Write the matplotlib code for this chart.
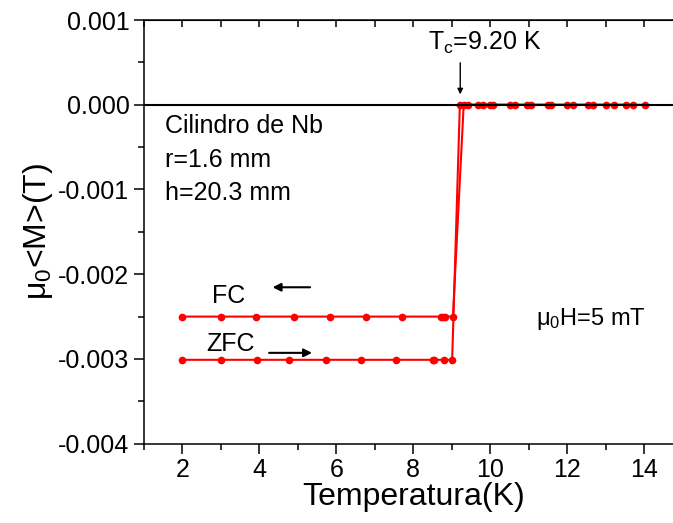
import matplotlib
matplotlib.use("Agg")
import matplotlib.pyplot as plt
from matplotlib.ticker import MultipleLocator, FuncFormatter

plt.rcParams["font.family"] = ["Liberation Sans", "DejaVu Sans"]
plt.rcParams["mathtext.fontset"] = "custom"
plt.rcParams["mathtext.rm"] = "Liberation Sans"

# FC (enfriando) y ZFC (calentando), T en K, mu0<M> en T
fc_T = [2.0, 3.0, 3.91, 4.89, 5.83, 6.76, 7.70, 8.71, 8.77, 8.82, 9.03,
        9.31, 9.68, 9.99, 10.64, 10.96, 11.59, 12.15, 12.67, 13.22, 13.70]
fc_M = [-0.0025] * 11 + [0.0] * 10

zfc_T = [1.99, 3.01, 3.93, 4.78, 5.73, 6.65, 7.56, 8.50, 8.55, 8.79, 9.01,
         9.21, 9.42, 9.80, 10.07, 10.51, 11.05, 11.50, 12.00, 12.54, 13.00, 13.52, 14.02]
zfc_M = [-0.00301] * 11 + [0.0] * 12

y_ticks = [0.001, 0.0, -0.001, -0.002, -0.003, -0.004]

fig = plt.figure(figsize=(6.73, 5.23), dpi=100)
ax = fig.add_axes([144 / 673, 79.3 / 523, 538.6 / 673, 423.7 / 523])

ax.plot(fc_T, fc_M, color="#ff0000", lw=1.5, marker="o", ms=4.5, zorder=3)
ax.plot(zfc_T, zfc_M, color="#ff0000", lw=1.5, marker="o", ms=4.5, zorder=3)
ax.axhline(0, color="black", lw=1.5, zorder=4)

ax.set_xlim(1, 15)
ax.set_ylim(-0.004, 0.001)
ax.xaxis.set_major_locator(MultipleLocator(2))
ax.xaxis.set_minor_locator(MultipleLocator(1))
ax.set_yticks(y_ticks)
ax.yaxis.set_minor_locator(MultipleLocator(0.0005))
ax.yaxis.set_major_formatter(FuncFormatter(lambda v, p: f"{v:.3f}".replace("-0.000", "0.000")))

ax.tick_params(which="major", direction="out", length=7, width=1.1, labelsize=18)
ax.tick_params(which="minor", direction="out", length=4, width=1.1)
ax.spines["right"].set_visible(False)
for s in ["left", "bottom", "top"]:
    ax.spines[s].set_linewidth(1.1)

top = ax.secondary_xaxis("top")
top.set_xticks(range(1, 16))
top.tick_params(direction="in", length=5, width=1.1, labeltop=False)

ax.set_xlabel("Temperatura(K)", fontsize=23, labelpad=0)
ax.set_ylabel(r"$\mathregular{\mu_0}$<M>(T)", fontsize=23, labelpad=2)

ax.text(1.54, -0.000334, "Cilindro de Nb", fontsize=18)
ax.text(1.54, -0.000731, "r=1.6 mm", fontsize=18)
ax.text(1.54, -0.00113, "h=20.3 mm", fontsize=18)

ax.text(11.2, -0.0026, r"$\mathregular{\mu_0}$H=5 mT", fontsize=17)
ax.text(2.78, -0.002344, "FC", fontsize=18)
ax.text(2.62, -0.002903, "ZFC", fontsize=18)

ax.annotate("", xy=(4.27, -0.002154), xytext=(5.39, -0.002154),
            arrowprops=dict(arrowstyle="-|>", color="black", lw=1.5, mutation_scale=12))
ax.annotate("", xy=(5.44, -0.002928), xytext=(4.18, -0.002928),
            arrowprops=dict(arrowstyle="-|>", color="black", lw=1.5, mutation_scale=12))

ax.text(8.38, 0.000646, r"T$_\mathregular{c}$=9.20 K", fontsize=18)
ax.annotate("", xy=(9.22, 0.00009), xytext=(9.22, 0.000528),
            arrowprops=dict(arrowstyle="-|>", color="black", lw=1.0, mutation_scale=8))

fig.savefig("out.png", dpi=100)
